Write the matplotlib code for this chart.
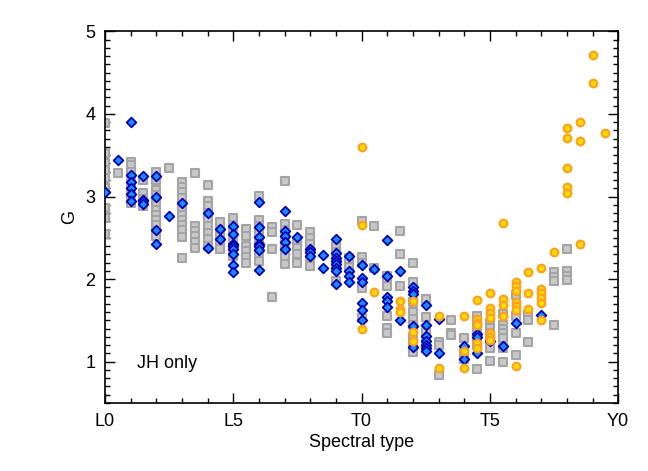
import numpy as np
import matplotlib
matplotlib.use("Agg")
import matplotlib.pyplot as plt
from matplotlib.ticker import MultipleLocator

plt.rcParams['font.family'] = ['Liberation Sans', 'DejaVu Sans']

# grey squares: full sample (spectral type index, 0 = L0, 10 = T0, 20 = Y0)
grey_spt = ([0]*9 + [0.5] + [1]*8 + [1.5]*4 + [2]*12 + [2.5] + [3]*12 + [3.5]*6
            + [4]*9 + [4.5]*5 + [5]*7 + [5.5]*6 + [6]*8 + [6.5]*4 + [7]*8
            + [7.5]*5 + [8]*6 + [9]*5 + [9.5]*3 + [10]*5 + [10.5]*2 + [11]*6
            + [11.5]*3 + [12]*9 + [12.5]*6 + [13]*3 + [13.5]*3 + [14]*3
            + [14.5]*6 + [15]*7 + [15.5]*7 + [16]*4 + [16.5]*3 + [17.5]*4 + [18]*4)
grey_g = [3.89, 3.53, 3.41, 3.32, 3.23, 3.10, 2.86, 2.74, 2.54,
          3.29,
          3.42, 3.38, 3.30, 3.22, 3.14, 3.06, 2.98, 2.92,
          3.20, 3.04, 2.97, 2.88,
          3.30, 3.20, 3.08, 3.02, 2.96, 2.90, 2.84, 2.78, 2.72, 2.66, 2.58, 2.52,
          3.35,
          3.18, 3.12, 3.06, 2.98, 2.90, 2.84, 2.78, 2.72, 2.66, 2.60, 2.51, 2.25,
          3.29, 2.64, 2.58, 2.52, 2.45, 2.38,
          3.14, 2.94, 2.88, 2.80, 2.72, 2.64, 2.56, 2.48, 2.40,
          2.69, 2.60, 2.52, 2.45, 2.36,
          2.74, 2.66, 2.58, 2.50, 2.44, 2.36, 2.28,
          2.61, 2.52, 2.40, 2.34, 2.27, 2.20,
          3.01, 2.71, 2.64, 2.56, 2.48, 2.40, 2.32, 2.22,
          2.63, 2.57, 2.37, 1.78,
          3.19, 2.67, 2.60, 2.52, 2.45, 2.37, 2.28, 2.18,
          2.65, 2.45, 2.38, 2.30, 2.20,
          2.57, 2.50, 2.42, 2.35, 2.28, 2.16,
          2.40, 2.33, 2.24, 2.16, 1.98,
          2.25, 2.20, 2.15,
          2.70, 2.27, 2.20, 1.89, 1.53,
          2.64, 2.13,
          2.04, 1.98, 1.92, 1.55, 1.41, 1.35,
          2.58, 2.30, 1.92,
          2.20, 1.96, 1.72, 1.60, 1.52, 1.44, 1.30, 1.20, 1.12,
          1.76, 1.54, 1.36, 1.28, 1.22, 1.16,
          1.24, 1.20, 0.84,
          1.51, 1.35, 1.32,
          1.29, 1.10, 1.03,
          1.55, 1.47, 1.40, 1.30, 1.20, 0.91,
          1.47, 1.41, 1.35, 1.29, 1.23, 1.17, 1.01,
          1.58, 1.45, 1.40, 1.35, 1.29, 1.17, 1.00,
          1.81, 1.55, 1.35, 1.08,
          1.57, 1.51, 1.24,
          2.09, 2.03, 1.98, 1.44,
          2.37, 2.10, 2.04, 1.99]

# blue diamonds: JH-only sample
blue_spt = ([0, 0.5] + [1]*6 + [1.5]*4 + [2]*4 + [2.5, 3] + [4]*2 + [4.5]*2
            + [5]*8 + [6]*7 + [7]*5 + [7.5] + [8]*3 + [8.5]*2 + [9]*8 + [9.5]*4
            + [10]*6 + [10.5] + [11]*5 + [11.5]*2 + [12]*5 + [12.5]*7 + [13]*2
            + [14]*2 + [14.5]*3 + [15, 15.5, 16, 17])
blue_g = [3.06, 3.44,
          3.90, 3.26, 3.18, 3.10, 3.03, 2.94,
          3.25, 2.96, 2.94, 2.91,
          3.25, 2.99, 2.59, 2.42,
          2.77, 2.92,
          2.80, 2.38,
          2.61, 2.49,
          2.64, 2.54, 2.42, 2.40, 2.37, 2.30, 2.17, 2.08,
          2.93, 2.63, 2.51, 2.42, 2.40, 2.35, 2.11,
          2.82, 2.58, 2.52, 2.45, 2.37,
          2.51,
          2.37, 2.33, 2.28,
          2.29, 2.13,
          2.48, 2.31, 2.26, 2.22, 2.18, 2.14, 2.10, 1.94,
          2.28, 2.10, 2.04, 1.96,
          2.17, 2.01, 1.96, 1.71, 1.63, 1.50,
          2.12,
          2.47, 2.04, 1.78, 1.73, 1.66,
          2.10, 1.51,
          1.90, 1.86, 1.82, 1.43, 1.18,
          1.69, 1.45, 1.31, 1.25, 1.20, 1.17, 1.13,
          1.52, 1.10,
          1.19, 1.03,
          1.34, 1.30, 1.11,
          1.25, 1.19, 1.47, 1.56]

# orange circles: late-type objects
orange_spt = ([10]*3 + [10.5] + [11.5]*3 + [12]*3 + [13]*2 + [14]*3 + [14.5]*6
              + [15]*7 + [15.5]*4 + [16]*7 + [16.5]*3 + [17]*6 + [17.5]
              + [18]*5 + [18.5]*3 + [19]*2 + [19.5])
orange_g = [3.60, 2.66, 1.39,
            1.84,
            1.73, 1.64, 1.60,
            1.73, 1.36, 1.25,
            1.55, 0.92,
            1.55, 1.13, 0.92,
            1.75, 1.52, 1.47, 1.44, 1.23, 1.17,
            1.83, 1.65, 1.59, 1.53, 1.35, 1.30, 1.26,
            2.68, 1.76, 1.69, 1.55,
            1.96, 1.92, 1.86, 1.72, 1.67, 1.62, 0.95,
            2.09, 1.83, 1.64,
            2.13, 1.88, 1.83, 1.77, 1.71, 1.50,
            2.33,
            3.83, 3.71, 3.35, 3.12, 3.04,
            3.90, 3.67, 2.43,
            4.71, 4.37,
            3.77]

tick_pos = [0, 5, 10, 15, 20]
tick_lab = ['L0', 'L5', 'T0', 'T5', 'Y0']

fig = plt.figure(figsize=(6.48, 4.71), dpi=100)
ax = fig.add_axes([0.162, 0.1444, 0.792, 0.7891])

ax.scatter(grey_spt, grey_g, marker='s', s=36, facecolor='#c8c8c8',
           edgecolor='#a4a4a4', linewidths=1.5, zorder=2)
ax.scatter(blue_spt, blue_g, marker='D', s=24, facecolor='#1a8cff',
           edgecolor='#0000b4', linewidths=1.3, zorder=3)
ax.scatter(orange_spt, orange_g, marker='o', s=30, facecolor='#ffe000',
           edgecolor='#ffa01e', linewidths=1.6, zorder=4)

ax.set_xlim(0, 20)
ax.set_ylim(0.5, 5)
ax.set_xticks(tick_pos)
ax.set_xticklabels(tick_lab)
ax.xaxis.set_minor_locator(MultipleLocator(1))
ax.yaxis.set_major_locator(MultipleLocator(1))
ax.yaxis.set_minor_locator(MultipleLocator(0.1))
ax.tick_params(which='both', direction='in', top=True, right=True,
               labelsize=13, width=1, pad=7)
ax.tick_params(which='major', length=7)
ax.tick_params(which='minor', length=3.5)
for sp in ax.spines.values():
    sp.set_linewidth(1.2)

ax.set_xlabel('Spectral type', fontsize=13, labelpad=3)
ax.set_ylabel('G', fontsize=13, labelpad=5)
ax.text(0.062, 0.094, 'JH only', transform=ax.transAxes, fontsize=13)

fig.savefig('out.png', dpi=100)
